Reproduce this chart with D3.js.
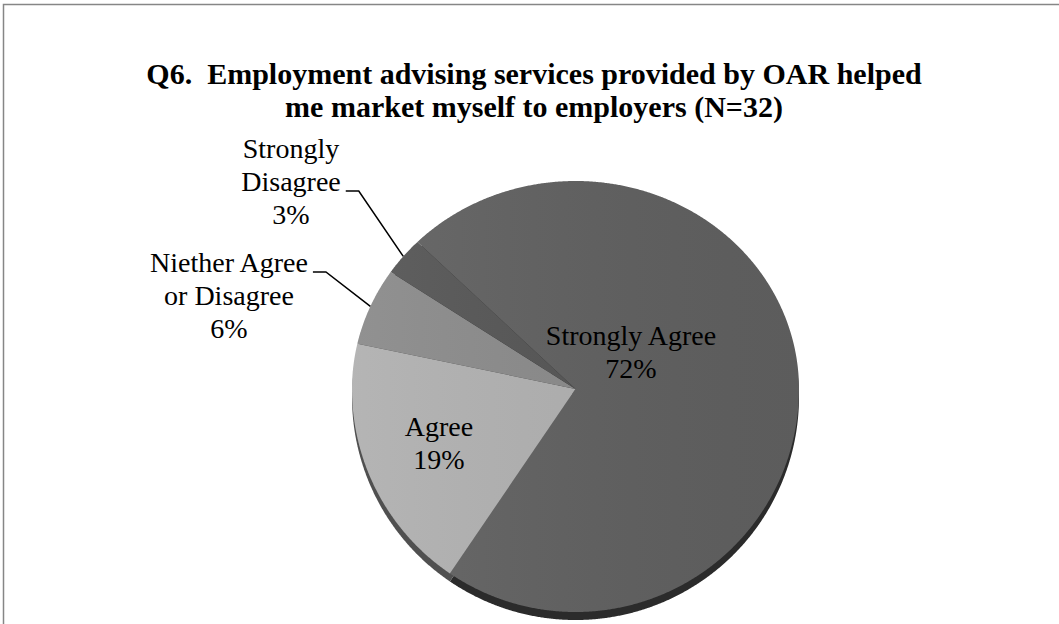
<!DOCTYPE html>
<html>
<head>
<meta charset="utf-8">
<script src="https://cdn.jsdelivr.net/npm/d3@7"></script>
<style>
  html, body { margin: 0; padding: 0; background: #fff; }
  svg { display: block; }
  text { font-family: "Liberation Serif", "Times New Roman", serif; fill: #000; }
</style>
</head>
<body>
<svg id="chart" width="1059" height="624"></svg>
<script>
// Survey responses, Q6 (N = 32)
const categories = ["Strongly Agree", "Agree", "Niether Agree or Disagree", "Strongly Disagree"];
const percents = [72, 19, 6, 3];
const labelLines = [["Strongly Agree"], ["Agree"], ["Niether Agree", "or Disagree"], ["Strongly", "Disagree"]];
const sliceColors = ["#5f5f5f", "#afafaf", "#898989", "#545454"];
const titleLines = ["Q6.  Employment advising services provided by OAR helped", "me market myself to employers (N=32)"];

const W = 1059, H = 624;
const svg = d3.select("#chart");

// frame
svg.append("rect")
  .attr("x", 3.5).attr("y", 4.5)
  .attr("width", W + 20).attr("height", H + 20)
  .attr("fill", "none").attr("stroke", "#868686").attr("stroke-width", 1.5);

// title
svg.append("g").selectAll("text")
  .data(titleLines)
  .join("text")
  .attr("x", 534)
  .attr("y", (d, i) => 84 + i * 33)
  .attr("text-anchor", "middle")
  .attr("font-size", 30)
  .attr("font-weight", "bold")
  .style("white-space", "pre")
  .text(d => d);

// tilted pie geometry
const cx = 575.5, cy = 389, rx = 223.5, ryTop = 208, ryBot = 223, depth = 8;
const proj = (a, r) => {
  const c = Math.cos(a);
  return [cx + rx * r * Math.sin(a), cy - (c > 0 ? ryTop : ryBot) * r * c];
};

const pie = d3.pie().sort(null).value(d => d)
  .startAngle(-Math.PI / 4).endAngle(2 * Math.PI - Math.PI / 4);
const arcs = pie(percents);
const line = d3.line();

const slicePath = (d, dy = 0) => {
  const n = Math.max(2, Math.ceil((d.endAngle - d.startAngle) / 0.005));
  const pts = [[cx, cy]].concat(
    d3.range(n + 1).map(i => proj(d.startAngle + (d.endAngle - d.startAngle) * i / n, 1))
  );
  return line(pts.map(p => [p[0], p[1] + dy])) + "Z";
};

const defs = svg.append("defs");
const shade = defs.append("linearGradient").attr("id", "shade")
  .attr("x1", 0).attr("x2", 1).attr("y1", 0).attr("y2", 0);
shade.append("stop").attr("offset", 0).attr("stop-color", "#fff").attr("stop-opacity", 0.07);
shade.append("stop").attr("offset", 1).attr("stop-color", "#000").attr("stop-opacity", 0.03);

const pieG = svg.append("g");

// side wall
pieG.append("g").selectAll("path")
  .data(arcs)
  .join("path")
  .attr("d", d => slicePath(d, depth))
  .attr("fill", (d, i) => d3.color(sliceColors[i]).darker(2.2));

// top faces
pieG.append("g").selectAll("path")
  .data(arcs)
  .join("path")
  .attr("d", d => slicePath(d))
  .attr("fill", (d, i) => sliceColors[i]);

// soft lighting across the top
pieG.append("path")
  .attr("d", slicePath({startAngle: 0, endAngle: 2 * Math.PI}))
  .attr("fill", "url(#shade)");

// labels
const fontSize = 28, lh = 33;
const labelPlace = [
  {x: 631, y: 345, inside: true},
  {x: 439, y: 436, inside: true},
  {x: 229, y: 272, inside: false, lead: 0},
  {x: 291, y: 158, inside: false, lead: 1}
];

const labelG = svg.append("g");
arcs.forEach((d, i) => {
  const p = labelPlace[i];
  const lines = labelLines[i].concat([percents[i] + "%"]);
  const t = labelG.append("text")
    .attr("text-anchor", "middle")
    .attr("font-size", fontSize);
  lines.forEach((s, k) => {
    t.append("tspan").attr("x", p.x).attr("y", p.y + k * lh).text(s);
  });
  if (!p.inside) {
    const tspan = t.selectAll("tspan").nodes()[p.lead];
    const w = tspan.getComputedTextLength();
    const y0 = p.y + p.lead * lh;
    const x0 = p.x + w / 2 + 5;
    const mid = (d.startAngle + d.endAngle) / 2;
    const edge = proj(mid, 1);
    labelG.append("path")
      .attr("d", line([[x0, y0], [x0 + 13, y0], edge]))
      .attr("fill", "none")
      .attr("stroke", "#000")
      .attr("stroke-width", 1.5);
  }
});
</script>
</body>
</html>
